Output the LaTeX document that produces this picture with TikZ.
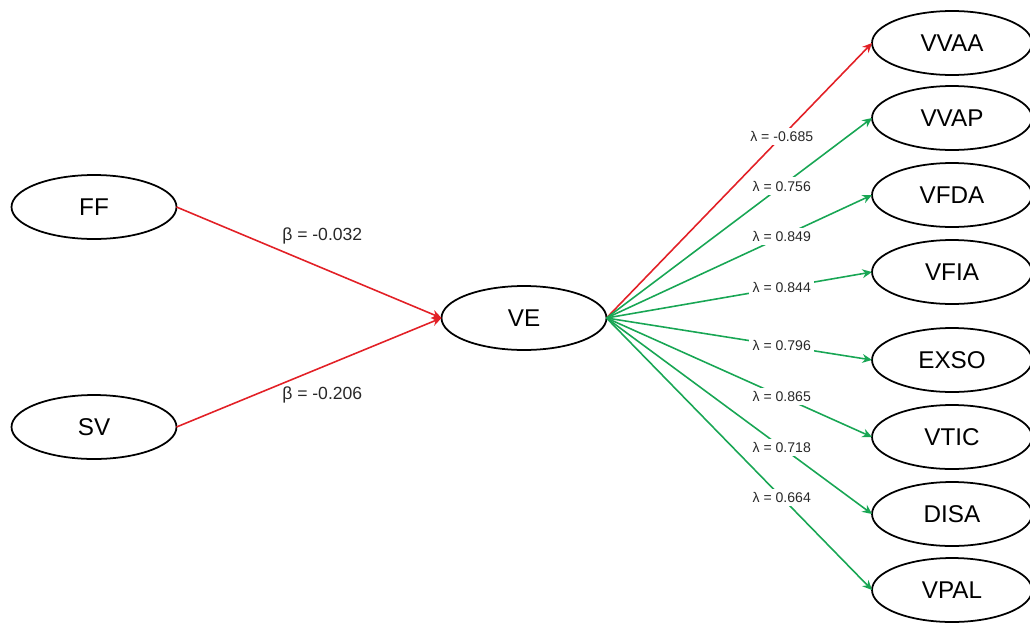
\documentclass[tikz,border=0pt]{standalone}
\usepackage{fontspec}
\setmainfont{Liberation Sans}
\usetikzlibrary{arrows.meta, shapes.geometric, positioning}
\definecolor{pathred}{RGB}{226,32,38}
\definecolor{pathgreen}{RGB}{24,166,84}
\definecolor{labelgray}{RGB}{40,40,40}

\begin{document}
\begin{tikzpicture}[x=0.02cm, y=-0.02cm,
    latent/.style={ellipse, draw, line width=1pt, minimum width=3.3cm, minimum height=1.28cm,
      inner sep=0pt, outer sep=0pt, font=\fontsize{13.8}{15}\selectfont},
    link/.style={line width=0.9pt, -{Stealth[length=5.5pt, width=5pt]}},
    coef/.style={pos=0.55, inner sep=1pt, text=labelgray, font=\fontsize{10}{11}\selectfont},
    load/.style={pos=0.66, fill=white, inner sep=2pt, text=labelgray, font=\fontsize{8}{9}\selectfont}]
  \useasboundingbox (0,0) rectangle (1030,622);
  % Exogenous constructs
  \node[latent] (ff) at (94,207) {FF};
  \node[latent] (sv) at (94,427) {SV};
  % Endogenous construct
  \node[latent] (ve) at (524,318) {VE};
  % Structural paths
  \draw[link, pathred] (ff.east) -- node[coef, above=12pt] {β = -0.032} (ve.west);
  \draw[link, pathred] (sv.east) -- node[coef, below=10pt] {β = -0.206} (ve.west);
  % Indicators and loadings
  \foreach \name/\ypos/\val/\col in {VVAA/43/-0.685/pathred, VVAP/118/0.756/pathgreen,
      VFDA/195/0.849/pathgreen, VFIA/272/0.844/pathgreen, EXSO/360/0.796/pathgreen,
      VTIC/437/0.865/pathgreen, DISA/514/0.718/pathgreen, VPAL/590/0.664/pathgreen} {
    \node[latent, minimum width=3.2cm] (\name) at (952,\ypos) {\name};
    \draw[link, \col] (ve.east) -- node[load] {λ = \val} (\name.west);
  }
\end{tikzpicture}
\end{document}
